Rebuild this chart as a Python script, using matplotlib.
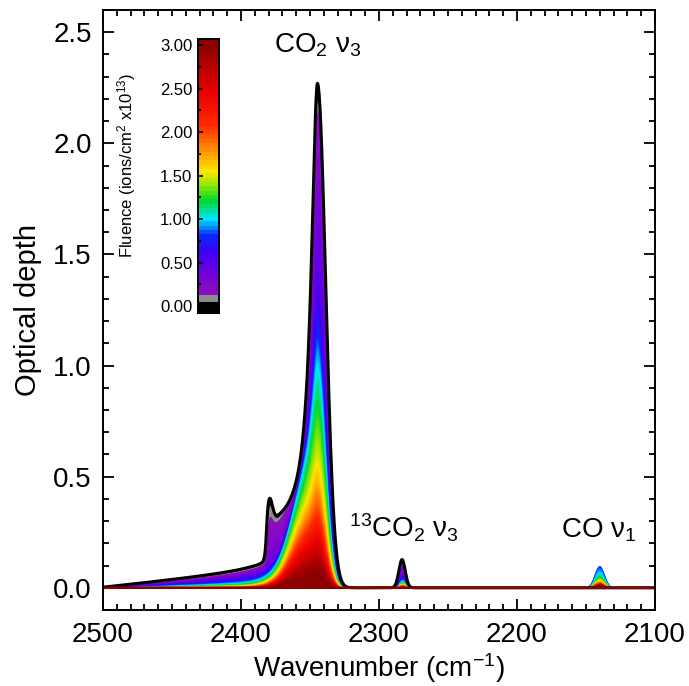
import numpy as np
import matplotlib
matplotlib.use("Agg")
import matplotlib.pyplot as plt
from matplotlib.colors import LinearSegmentedColormap
from matplotlib.ticker import MultipleLocator, FormatStrFormatter

plt.rcParams['font.family'] = ['Liberation Sans', 'DejaVu Sans']
plt.rcParams['mathtext.fontset'] = 'custom'
plt.rcParams['mathtext.rm'] = 'Liberation Sans'
plt.rcParams['mathtext.it'] = 'Liberation Sans:italic'

# fluence of each spectrum (ions/cm2 x1e13)
fluence = [0.00, 0.10, 0.15, 0.20, 0.25, 0.30, 0.35, 0.40, 0.45, 0.50,
           0.55, 0.60, 0.65, 0.70, 0.75, 0.80, 0.85, 0.90, 0.95, 1.00,
           1.05, 1.10, 1.15, 1.20, 1.25, 1.30, 1.35, 1.40, 1.45, 1.50,
           1.55, 1.60, 1.65, 1.70, 1.75, 1.80, 1.85, 1.90, 1.95, 2.00,
           2.05, 2.10, 2.15, 2.20, 2.25, 2.30, 2.35, 2.40, 2.45, 2.50,
           2.55, 2.60, 2.65, 2.70, 2.75, 2.80, 2.85, 2.90, 2.95, 3.00]

# CO2 nu3 peak optical depth (~2344 cm-1) read for each spectrum
co2_peak = [2.27, 2.20, 2.15, 2.05, 1.95, 1.85, 1.75, 1.65, 1.55, 1.45,
            1.38, 1.32, 1.27, 1.23, 1.19, 1.15, 1.12, 1.09, 1.06, 1.02,
            0.98, 0.94, 0.89, 0.85, 0.80, 0.76, 0.72, 0.68, 0.64, 0.60,
            0.57, 0.54, 0.51, 0.48, 0.46, 0.44, 0.42, 0.40, 0.38, 0.36,
            0.345, 0.33, 0.31, 0.295, 0.28, 0.265, 0.25, 0.235, 0.22, 0.205,
            0.19, 0.18, 0.165, 0.155, 0.145, 0.13, 0.12, 0.105, 0.09, 0.075]

# broad low-frequency part of the CO2 band (grows after irradiation)
co2_broad = [0.00, 0.05, 0.12, 0.18, 0.23, 0.28, 0.32, 0.36, 0.39, 0.42,
             0.44, 0.46, 0.47, 0.48, 0.49, 0.50, 0.50, 0.50, 0.50, 0.50,
             0.49, 0.48, 0.47, 0.46, 0.45, 0.44, 0.43, 0.42, 0.40, 0.39,
             0.38, 0.37, 0.36, 0.34, 0.33, 0.32, 0.31, 0.30, 0.29, 0.28,
             0.27, 0.26, 0.25, 0.24, 0.23, 0.22, 0.21, 0.20, 0.19, 0.175,
             0.165, 0.155, 0.14, 0.13, 0.12, 0.11, 0.10, 0.09, 0.075, 0.065]

# sharp-edged plateau + LO shoulder at ~2380 (only the first spectra)
co2_plateau = [0.18, 0.17, 0.15, 0.12, 0.09, 0.06, 0.04, 0.02, 0.01]
co2_shoulder = [0.10, 0.08, 0.05, 0.03, 0.015, 0.005]

# high-frequency wing height at ~2383 cm-1
co2_wing = [0.075, 0.072, 0.068, 0.064, 0.061, 0.058, 0.055, 0.052, 0.049, 0.046,
            0.043, 0.040, 0.037, 0.035, 0.033, 0.031, 0.029, 0.027, 0.025, 0.023,
            0.021, 0.020, 0.018, 0.017, 0.016, 0.015, 0.014, 0.013, 0.012, 0.011,
            0.010, 0.010, 0.009, 0.009, 0.008, 0.008, 0.007, 0.007, 0.006, 0.006,
            0.006, 0.005, 0.005, 0.005, 0.004, 0.004, 0.004, 0.004, 0.003, 0.003,
            0.003, 0.003, 0.003, 0.002, 0.002, 0.002, 0.002, 0.002, 0.002, 0.002]

# 13CO2 nu3 (2283 cm-1) and CO nu1 (2140 cm-1) peak depths
c13o2_peak = [0.127, 0.118, 0.110, 0.100, 0.092, 0.085, 0.078, 0.072, 0.066, 0.061,
              0.057, 0.053, 0.050, 0.047, 0.044, 0.042, 0.040, 0.038, 0.036, 0.034,
              0.032, 0.030, 0.028, 0.027, 0.025, 0.024, 0.023, 0.022, 0.021, 0.020,
              0.019, 0.018, 0.017, 0.016, 0.015, 0.015, 0.014, 0.013, 0.013, 0.012,
              0.012, 0.011, 0.011, 0.010, 0.010, 0.009, 0.009, 0.009, 0.008, 0.008,
              0.008, 0.007, 0.007, 0.007, 0.006, 0.006, 0.006, 0.005, 0.005, 0.005]
co_peak = [0.000, 0.008, 0.015, 0.025, 0.035, 0.045, 0.055, 0.063, 0.070, 0.077,
           0.083, 0.088, 0.093, 0.097, 0.100, 0.100, 0.095, 0.088, 0.080, 0.073,
           0.067, 0.062, 0.057, 0.053, 0.050, 0.047, 0.044, 0.041, 0.039, 0.037,
           0.035, 0.033, 0.032, 0.031, 0.030, 0.029, 0.028, 0.027, 0.026, 0.025,
           0.024, 0.023, 0.022, 0.022, 0.021, 0.020, 0.020, 0.019, 0.019, 0.018,
           0.018, 0.017, 0.017, 0.016, 0.016, 0.015, 0.015, 0.015, 0.014, 0.014]

# rainbow colour table along the fluence axis
cmap_fluence = [0.15, 0.35, 0.60, 0.80, 1.00, 1.20, 1.40, 1.55, 1.80, 2.10, 2.45, 3.00]
cmap_colors = [(0.55, 0.05, 0.75), (0.45, 0.00, 0.85), (0.25, 0.00, 0.95), (0.05, 0.15, 1.00),
               (0.00, 0.90, 1.00), (0.00, 0.85, 0.20), (0.60, 0.90, 0.00), (1.00, 0.90, 0.00),
               (1.00, 0.55, 0.00), (1.00, 0.15, 0.00), (0.92, 0.00, 0.00), (0.55, 0.00, 0.00)]

pos = [(f - cmap_fluence[0]) / (cmap_fluence[-1] - cmap_fluence[0]) for f in cmap_fluence]
rainbow = LinearSegmentedColormap.from_list("idl_rainbow", list(zip(pos, cmap_colors)))

def colour(i):
    if i == 0:
        return "black"
    if i == 1:
        return (0.55, 0.55, 0.55)
    return rainbow((fluence[i] - cmap_fluence[0]) / (cmap_fluence[-1] - cmap_fluence[0]))

wn = np.linspace(2500, 2100, 4001)
c0 = 2344.5

def right_cut(w):
    return np.where(w < 2346, np.exp(-0.5 * ((w - 2346) / 6.0) ** 2), 1.0)

def spectrum(i):
    w = wn
    wing = co2_wing[i] * np.clip((2500 - w) / (2500 - 2383), 0, 1) * right_cut(w)
    plateau = (co2_plateau[i] if i < len(co2_plateau) else 0) / (1 + np.exp((w - 2381.5) / 0.5)) * right_cut(w)
    broad = co2_broad[i] / (1 + np.exp((w - 2364) / 6.0)) * right_cut(w)
    shoulder = (co2_shoulder[i] if i < len(co2_shoulder) else 0) * np.exp(-0.5 * ((w - 2379.3) / 2.0) ** 2)
    others = wing + plateau + broad + shoulder
    k = np.argmin(np.abs(w - c0))
    amp = max(co2_peak[i] - others[k], 0)
    narrow = np.where(w >= c0, 1 / (1 + ((w - c0) / 5.5) ** 2), np.exp(-0.5 * ((w - c0) / 6.0) ** 2))
    c13 = c13o2_peak[i] * np.exp(-0.5 * ((w - 2283.3) / 2.3) ** 2)
    co = co_peak[i] * np.exp(-0.5 * ((w - 2140.4) / 3.6) ** 2)
    return others + amp * narrow + c13 + co

fig = plt.figure(figsize=(6.89, 6.86), dpi=100)
ax = fig.add_axes([103 / 689, 1 - 610 / 686, 552 / 689, 600 / 686])

for i in range(len(fluence)):
    tau = spectrum(i)
    ax.fill_between(wn, 0, tau, color=colour(i), lw=0)
    if i == 0:
        ax.plot(wn, tau, color="black", lw=2.2)
ax.plot(wn, np.zeros_like(wn), color=colour(len(fluence) - 1), lw=1.8)

ax.set_xlim(2500, 2100)
ax.set_ylim(-0.1, 2.6)
ax.xaxis.set_major_locator(MultipleLocator(100))
ax.xaxis.set_minor_locator(MultipleLocator(10))
ax.yaxis.set_major_locator(MultipleLocator(0.5))
ax.yaxis.set_minor_locator(MultipleLocator(0.1))
ax.yaxis.set_major_formatter(FormatStrFormatter("%.1f"))
ax.tick_params(which="both", direction="in", top=True, right=True, width=1.3, labelsize=20)
ax.tick_params(which="major", length=8)
ax.tick_params(which="minor", length=4.5)
ax.tick_params(axis="x", pad=9)
ax.tick_params(axis="y", pad=8)
for s in ax.spines.values():
    s.set_linewidth(1.4)

ax.set_xlabel("Wavenumber (cm$^{-1}$)", fontsize=20, labelpad=2)
ax.set_ylabel("Optical depth", fontsize=21, labelpad=8)

ax.text(2376, 2.41, "CO$_2$ ν$_3$", fontsize=20, ha="left", va="baseline")
ax.text(2322, 0.225, "$^{13}$CO$_2$ ν$_3$", fontsize=20, ha="left", va="baseline")
ax.text(2168, 0.225, "CO ν$_1$", fontsize=20, ha="left", va="baseline")

# colour bar inset, one band per spectrum
cax = fig.add_axes([198 / 689, 1 - 313 / 686, 21 / 689, 274 / 686])
edges = [-0.08] + [(fluence[i] + fluence[i + 1]) / 2 for i in range(len(fluence) - 1)] + [3.07]
for i in range(len(fluence)):
    cax.axhspan(edges[i], edges[i + 1], color=colour(i), lw=0)
cax.set_ylim(-0.08, 3.07)
cax.set_xlim(0, 1)
cax.set_xticks([])
cax.yaxis.set_major_locator(MultipleLocator(0.5))
cax.yaxis.set_minor_locator(MultipleLocator(0.25))
cax.yaxis.set_major_formatter(FormatStrFormatter("%.2f"))
cax.tick_params(which="both", direction="in", labelsize=12, width=1.2, pad=4)
cax.tick_params(which="major", length=3.5)
cax.tick_params(which="minor", length=2.5)
for s in cax.spines.values():
    s.set_linewidth(1.4)
cax.set_ylabel("Fluence (ions/cm$^2$ x10$^{13}$)", fontsize=12)
cax.yaxis.set_label_coords(-2.85, 0.54)

fig.savefig("out.png", dpi=100)
